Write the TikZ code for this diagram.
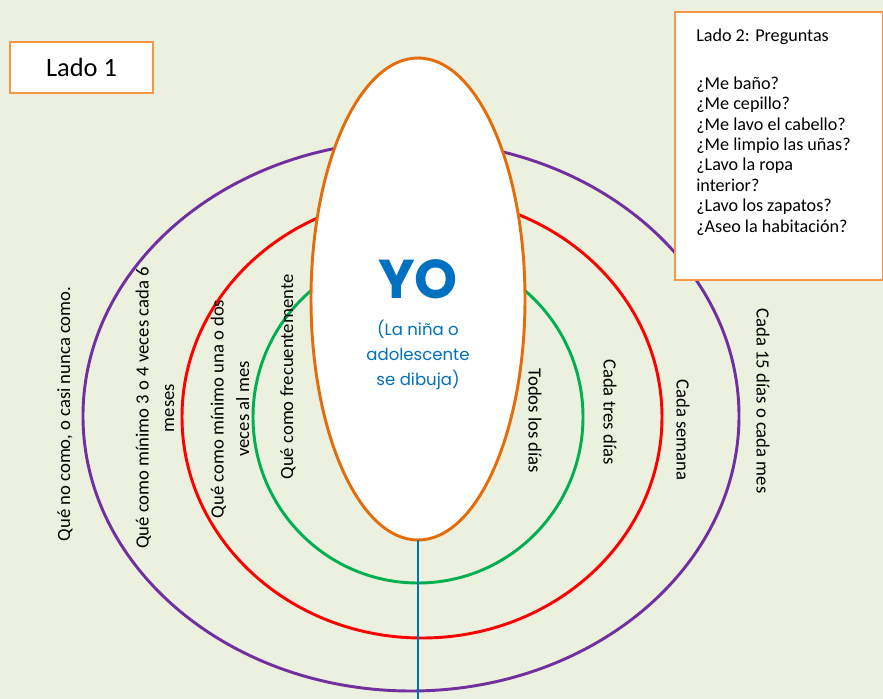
\documentclass[tikz,border=0pt]{standalone}
\usepackage{fontspec}
\setmainfont{Carlito}
\newfontfamily\yofont{Poppins}
\usetikzlibrary{shapes.geometric}
\definecolor{bg}{HTML}{EBF1DE}
\definecolor{ringpurple}{HTML}{7030A0}
\definecolor{ringred}{HTML}{FF0000}
\definecolor{ringgreen}{HTML}{00B050}
\definecolor{eggorange}{HTML}{E46C0A}
\definecolor{boxorange}{HTML}{F79646}
\definecolor{lineblue}{HTML}{0070C0}
\begin{document}
\begin{tikzpicture}[x=0.75pt,y=-0.75pt,
  ring/.style={ellipse, draw, line width=2.2pt, inner sep=0pt, outer sep=0pt},
  lbl/.style={inner sep=0pt, font=\fontsize{14}{19}\selectfont, align=center},
  sidebox/.style={draw=boxorange, line width=1.6pt, fill=white, inner sep=0pt}]
\fill[bg] (0,0) rectangle (883,699);
\useasboundingbox (0,0) rectangle (883,699);
% rings
\node[ring, draw=ringpurple, minimum width=492pt, minimum height=412.5pt] (purple) at (411,416) {};
\node[ring, draw=ringred, minimum width=360pt, minimum height=331.5pt] (red) at (422,417) {};
\node[ring, draw=ringgreen, minimum width=247.5pt, minimum height=249pt] (green) at (418,417) {};
% egg
\node[ring, draw=eggorange, fill=white, minimum width=160.5pt, minimum height=361.5pt] (egg) at (418,299) {};
\coordinate (bottomend) at (418,699);
\draw[lineblue, line width=2.2pt] (egg.south) -- (bottomend);
% left labels
\node[lbl, rotate=90] (t1) at (65,414) {Qué no como, o casi nunca como.};
\node[lbl, rotate=90] (t2) at (155,408) {Qué como mínimo 3 o 4 veces cada 6\\meses};
\node[lbl, rotate=90] (t3) at (230,409) {Qué como mínimo una o dos\\veces al mes};
\node[lbl, rotate=90] (t4) at (288,377) {Qué como frecuentemente};
% right labels
\node[lbl, rotate=-90] (r1) at (535,421) {Todos los días};
\node[lbl, rotate=-90] (r2) at (610,412) {Cada tres días};
\node[lbl, rotate=-90] (r3) at (683,430) {Cada semana};
\node[lbl, rotate=-90] (r4) at (763,401) {Cada 15 días o cada mes};
% centre
\node[inner sep=0pt, text=lineblue, font=\yofont\bfseries\fontsize{41}{41}\selectfont] (yo) at (418,279) {YO};
\node[inner sep=0pt, text=lineblue, align=center, font=\yofont\fontsize{12.4}{18.75}\selectfont] (yosub) at (418,355) {(La niña o\\adolescente\\se dibuja)};
% boxes
\node[sidebox, minimum width=107.25pt, minimum height=38.25pt, font=\fontsize{19.8}{22}\selectfont] (lado1) at (81.5,67.5) {Lado 1};
\node[sidebox, minimum width=156pt, minimum height=201pt] (lado2) at (779,146) {};
\node[inner sep=0pt, anchor=north west, align=left, font=\fontsize{13.6}{15.3}\selectfont] (preg) at (696,28.5) {Lado 2: Preguntas\\[20.6pt]¿Me baño?\\¿Me cepillo?\\¿Me lavo el cabello?\\¿Me limpio las uñas?\\¿Lavo la ropa\\interior?\\¿Lavo los zapatos?\\¿Aseo la habitación?};
\end{tikzpicture}
\end{document}
